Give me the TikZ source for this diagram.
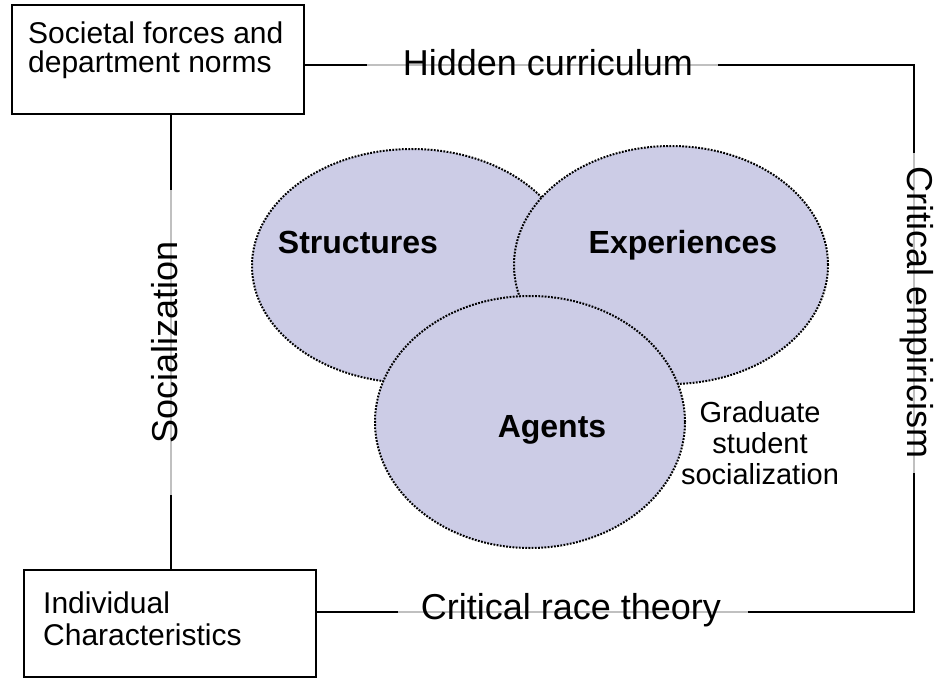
\documentclass[tikz,border=0pt]{standalone}
\usepackage{fontspec}
\setmainfont{Liberation Sans}
\usetikzlibrary{shapes.geometric}
\definecolor{bubblefill}{RGB}{204,204,230}
\definecolor{mutedline}{RGB}{192,192,192}
\begin{document}
\begin{tikzpicture}[x=1pt,y=-1pt,
  framebox/.style={draw=black,line width=2pt,inner sep=0pt},
  boxtext/.style={inner sep=0pt,anchor=west,font=\fontsize{30}{32}\selectfont},
  link/.style={draw=black,line width=2pt},
  muted/.style={draw=mutedline,line width=2pt},
  axislabel/.style={inner sep=0pt,font=\fontsize{36}{40}\selectfont},
  bubble/.style={ellipse,draw=black,fill=bubblefill,line width=2pt,
    dash pattern=on 1.8pt off 1.4pt,inner sep=0pt},
  bubbletext/.style={inner sep=0pt,anchor=base,font=\fontsize{32}{36}\selectfont\bfseries},
  notetext/.style={inner sep=0pt,align=center,font=\fontsize{29}{31}\selectfont}]
\useasboundingbox (0,0) rectangle (937,679);

% outer boxes
\node[framebox,minimum width=292pt,minimum height=109pt] (forces) at (158,59.5) {};
\node[boxtext] (forcesA) at (28,33) {Societal forces and};
\node[boxtext] (forcesB) at (28,65) {department norms};
\node[framebox,minimum width=292pt,minimum height=107pt] (indiv) at (170,623.5) {};
\node[boxtext] (indivA) at (43,603) {Individual};
\node[boxtext] (indivB) at (43,635) {Characteristics};

% corners and break points of the frame
\coordinate (tr) at (914,65);
\coordinate (br) at (914,612);
\coordinate (lv) at (171,0);
\coordinate (t1) at (367,65);
\coordinate (t2) at (718,65);
\coordinate (r1) at (914,153);
\coordinate (r2) at (914,473);
\coordinate (b1) at (748,612);
\coordinate (b2) at (398,612);
\coordinate (l1) at (171,190);
\coordinate (l2) at (171,495);

% frame lines: black ends, grey middle under each label
\draw[link] (forces.east |- tr) -- (t1);
\draw[muted] (t1) -- (t2);
\draw[link] (t2) -- (tr) -- (r1);
\draw[muted] (r1) -- (r2);
\draw[link] (r2) -- (br) -- (b1);
\draw[muted] (b1) -- (b2);
\draw[link] (b2) -- (indiv.east |- br);
\draw[link] (lv |- forces.south) -- (l1);
\draw[muted] (l1) -- (l2);
\draw[link] (l2) -- (lv |- indiv.north);

% frame labels
\node[axislabel] (hidden) at (548,63) {Hidden curriculum};
\node[axislabel] (crt) at (571,610) {Critical race theory};
\node[axislabel,rotate=90] (social) at (165,342) {Socialization};
\node[axislabel,rotate=-90] (empir) at (917,313) {Critical empiricism};

% overlapping bubbles
\node[bubble,minimum width=320pt,minimum height=234pt] (struct) at (412,266) {};
\node[bubble,minimum width=314pt,minimum height=238pt] (exper) at (671,265) {};
\node[bubble,minimum width=310pt,minimum height=252pt] (agents) at (530,422) {};
\node[bubbletext] (structT) at (358,253) {Structures};
\node[bubbletext] (experT) at (683,253) {Experiences};
\node[bubbletext] (agentsT) at (552,437) {Agents};

\node[notetext] (grad) at (760,443) {Graduate\\student\\socialization};
\end{tikzpicture}
\end{document}
